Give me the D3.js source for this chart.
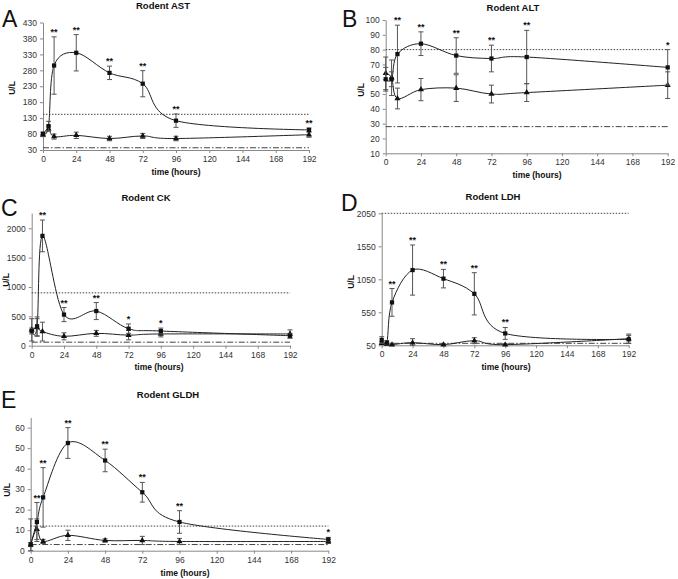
<!DOCTYPE html>
<html><head><meta charset="utf-8">
<script src="https://cdn.jsdelivr.net/npm/d3@7"></script>
<style>
body{margin:0;background:#fff;}
svg{display:block;font-family:"Liberation Sans",Arial,sans-serif;}
</style></head>
<body><svg id="c" width="678" height="579"></svg>
<script>
const hours = [0, 4, 8, 24, 48, 72, 96, 192];
const xTicks = [0, 24, 48, 72, 96, 120, 144, 168, 192];

const astTreated = [80, 105, 295, 335, 272, 238, 122, 93];
const astTreatedErr = [7, 15, 90, 57, 21, 41, 21, 6];
const astControl = [78, 97, 72, 76, 66, 74, 66, 78];
const astControlErr = [6, 8, 8, 10, 7, 8, 7, 8];
const astSig = ["", "", "**", "**", "**", "**", "**", "**"];
const astTicks = [30, 80, 130, 180, 230, 280, 330, 380, 430];
const astRefs = [142, 37];

const altTreated = [60, 60, 77, 84, 76, 74, 75, 68];
const altTreatedErr = [8, 5, 19.5, 8, 12, 9, 18, 12];
const altControl = [64, 61, 47, 53, 54, 50, 51, 56];
const altControlErr = [11, 12, 7, 7.5, 9, 6, 6, 9];
const altSig = ["", "", "**", "**", "**", "**", "**", "*"];
const altTicks = [10, 20, 30, 40, 50, 60, 70, 80, 90, 100];
const altRefs = [80, 28];

const ckTreated = [250, 330, 1870, 530, 590, 290, 250, 170];
const ckTreatedErr = [50, 160, 270, 120, 145, 80, 50, 40];
const ckControl = [270, 310, 240, 160, 210, 180, 200, 200];
const ckControlErr = [190, 150, 160, 60, 50, 80, 50, 70];
const ckSig = ["", "", "**", "**", "**", "*", "*", ""];
const ckTicks = [0, 500, 1000, 1500, 2000];
const ckRefs = [900, 60];

const ldhTreated = [130, 90, 700, 1190, 1060, 830, 230, 140];
const ldhTreatedErr = [50, 30, 210, 380, 140, 320, 90, 60];
const ldhControl = [80, 70, 60, 90, 60, 120, 60, 150];
const ldhControlErr = [20, 20, 20, 60, 15, 45, 15, 70];
const ldhSig = ["", "", "**", "**", "**", "**", "**", ""];
const ldhTicks = [50, 550, 1050, 1550, 2050];
const ldhRefs = [2050, 80];

const gldhTreated = [3, 14, 26, 52.5, 44, 28.5, 14, 5.5];
const gldhTreatedErr = [12.5, 9.5, 14.5, 7.5, 5.5, 4.8, 5.5, 1];
const gldhControl = [3, 10.5, 4.5, 7.5, 5, 5, 4.5, 4.5];
const gldhControlErr = [1, 5, 1, 2.5, 0.8, 2, 1.5, 1];
const gldhSig = ["", "**", "**", "**", "**", "**", "**", "*"];
const gldhTicks = [0, 10, 20, 30, 40, 50, 60];
const gldhRefs = [12, 3];

const panels = [
  {letter:"A", title:"Rodent AST", lx:2, ly:27, x0:43, x1:309, yTop:22.5, yBot:150, dom:[30,430], ticks:astTicks,
   t:astTreated, te:astTreatedErr, c:astControl, ce:astControlErr, sig:astSig, refs:astRefs, tx:163, ty:9, xl:[176,175], yl:[12,88]},
  {letter:"B", title:"Rodent ALT", lx:342, ly:27, x0:385.7, x1:667.7, yTop:20, yBot:153.3, dom:[10,100], ticks:altTicks,
   t:altTreated, te:altTreatedErr, c:altControl, ce:altControlErr, sig:altSig, refs:altRefs, tx:513, ty:11, xl:[537,178], yl:[361,90]},
  {letter:"C", title:"Rodent CK", lx:1, ly:216, x0:31.7, x1:290, yTop:213, yBot:345.7, dom:[0,2260], ticks:ckTicks,
   t:ckTreated, te:ckTreatedErr, c:ckControl, ce:ckControlErr, sig:ckSig, refs:ckRefs, tx:146, ty:201, xl:[159,370], yl:[6,280]},
  {letter:"D", title:"Rodent LDH", lx:341, ly:211, x0:381.7, x1:628.7, yTop:213.3, yBot:345.3, dom:[50,2050], ticks:ldhTicks,
   t:ldhTreated, te:ldhTreatedErr, c:ldhControl, ce:ldhControlErr, sig:ldhSig, refs:ldhRefs, tx:493, ty:200, xl:[506,370], yl:[351,282]},
  {letter:"E", title:"Rodent GLDH", lx:1, ly:408, x0:30.7, x1:328.3, yTop:417.4, yBot:550.7, dom:[0,65], ticks:gldhTicks,
   t:gldhTreated, te:gldhTreatedErr, c:gldhControl, ce:gldhControlErr, sig:gldhSig, refs:gldhRefs, tx:168, ty:398, xl:[185,576], yl:[7,490]}
];

const svg = d3.select("#c");
const ink = "#222";
const errCol = "#555";
const axCol = "#888";

panels.forEach(p => {
  const g = svg.append("g");
  const x = d3.scaleLinear().domain([0,192]).range([p.x0, p.x1]);
  const y = d3.scaleLinear().domain(p.dom).range([p.yBot, p.yTop]);

  g.append("text").attr("x", p.lx).attr("y", p.ly).attr("font-size", 23).attr("fill", "#111").text(p.letter);
  g.append("text").attr("x", p.tx).attr("y", p.ty).attr("text-anchor","middle").attr("font-size", 9.5)
    .attr("font-weight","bold").attr("fill","#111").text(p.title);

  const xa = g.append("g").attr("transform", `translate(0,${p.yBot})`)
    .call(d3.axisBottom(x).tickValues(xTicks).tickFormat(d3.format("d")).tickSize(3).tickSizeOuter(0));
  const ya = g.append("g").attr("transform", `translate(${p.x0},0)`)
    .call(d3.axisLeft(y).tickValues(p.ticks).tickFormat(d3.format("d")).tickSize(3).tickSizeOuter(0));
  [xa, ya].forEach(a => {
    a.select(".domain").attr("stroke", axCol);
    a.selectAll(".tick line").attr("stroke", axCol);
    a.selectAll(".tick text").attr("font-size", 8.5).attr("fill", "#333").attr("font-family","\"Liberation Sans\",Arial,sans-serif");
  });

  g.append("text").attr("x", p.xl[0]).attr("y", p.xl[1]).attr("text-anchor","middle").attr("font-size", 8.5)
    .attr("font-weight","bold").attr("fill","#111").text("time (hours)");
  g.append("text").attr("transform", `translate(${p.yl[0]},${p.yl[1]}) rotate(-90)`).attr("text-anchor","middle")
    .attr("dy","0.35em").attr("font-size", 8.5).attr("font-weight","bold").attr("fill","#111").text("U/L");

  // reference lines
  g.append("line").attr("x1", p.x0).attr("x2", p.x1).attr("y1", y(p.refs[0])).attr("y2", y(p.refs[0]))
    .attr("stroke", "#444").attr("stroke-width", 1).attr("stroke-dasharray", "1.5,1.5");
  g.append("line").attr("x1", p.x0).attr("x2", p.x1).attr("y1", y(p.refs[1])).attr("y2", y(p.refs[1]))
    .attr("stroke", "#444").attr("stroke-width", 1).attr("stroke-dasharray", "6,2,1.5,2");

  const line = d3.line().x((d,i) => x(hours[i])).y(d => y(d)).curve(d3.curveCatmullRom.alpha(0));
  [[p.c, p.ce, "tri"], [p.t, p.te, "sq"]].forEach(([vals, errs, shape]) => {
    g.append("path").attr("d", line(vals)).attr("fill","none").attr("stroke", ink).attr("stroke-width", 1);
    vals.forEach((v,i) => {
      const cx = x(hours[i]);
      const lo = y(Math.max(p.dom[0], v - errs[i])), hi = y(v + errs[i]);
      g.append("line").attr("x1",cx).attr("x2",cx).attr("y1",lo).attr("y2",hi).attr("stroke",errCol).attr("stroke-width",1);
      [lo, hi].forEach(yy => g.append("line").attr("x1",cx-2.5).attr("x2",cx+2.5).attr("y1",yy).attr("y2",yy)
        .attr("stroke",errCol).attr("stroke-width",1));
      const sym = d3.symbol().type(shape === "sq" ? d3.symbolSquare : d3.symbolTriangle).size(shape === "sq" ? 18 : 16);
      g.append("path").attr("d", sym()).attr("transform", `translate(${cx},${y(v)})`).attr("fill", "#111");
    });
  });

  p.sig.forEach((s,i) => {
    if (!s) return;
    const top = Math.min(y(p.t[i] + p.te[i]), y(p.c[i] + p.ce[i]));
    g.append("text").attr("x", x(hours[i])).attr("y", top - 2).attr("text-anchor","middle")
      .attr("font-size", 9).attr("font-weight","bold").attr("fill","#111").text(s);
  });
});
</script></body></html>
